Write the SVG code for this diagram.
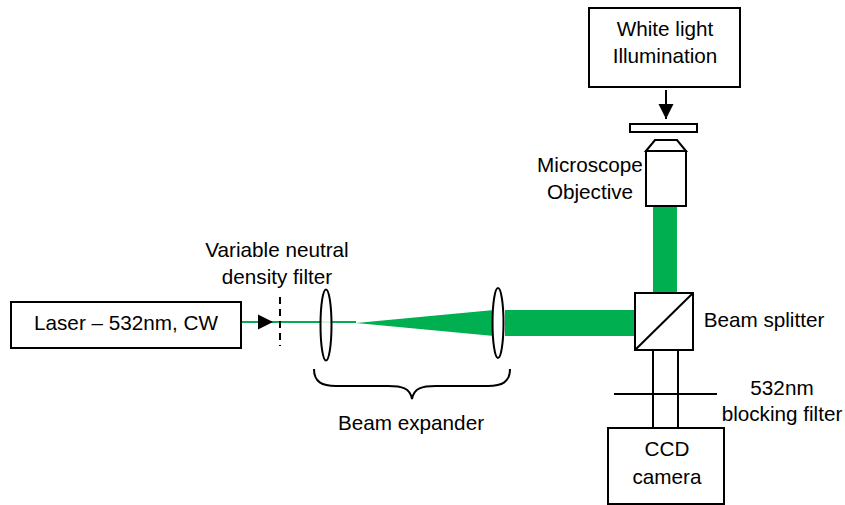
<svg xmlns="http://www.w3.org/2000/svg" width="845" height="505" viewBox="0 0 845 505">
<style>
text{font-family:"Liberation Sans",Arial,sans-serif;font-size:20.7px;fill:#000;text-anchor:middle}
.k{fill:#fff;stroke:#000;stroke-width:2}
.l{fill:#fff;fill-opacity:.85;stroke:#000;stroke-width:2}
.n{fill:none;stroke:#000;stroke-width:2}
.g{fill:#00b050;stroke:none}
</style>
<defs><marker id="a" markerUnits="userSpaceOnUse" markerWidth="16" markerHeight="16" refX="15" refY="8" orient="auto"><path d="M0,0.5 L15,8 L0,15.5 Z" fill="#000"/></marker></defs>
<g id="connectors">
<path class="g" d="M505,310 H636 V336 H505 Z"/>
<path class="g" d="M653,206 H677 V293 H653 Z"/>
<path class="g" d="M356,323 L494,310 V336 Z"/>
<path d="M241,322 H356" fill="none" stroke="#00b050" stroke-width="2"/>
<path d="M241,322 H273" fill="none" stroke="none" marker-end="url(#a)"/>
<path d="M280,297 V346" fill="none" stroke="#000" stroke-width="2" stroke-dasharray="7 5"/>
<path class="n" d="M666,90 H666 V119" marker-end="url(#a)"/>
<path class="n" d="M653,350 V428 M678,350 V428 M614,394 H717"/>
<path class="n" d="M314,369 C314,382 322,386 336,386 H388 C402,386 410,388 412,399 C414,388 422,386 436,386 H488 C502,386 510,382 510,369"/>
</g>
<g id="laser"><rect class="k" x="11" y="302" width="230" height="46"/><text x="126" y="330">Laser – 532nm, CW</text></g>
<g id="white-light"><rect class="k" x="589" y="8" width="151" height="79"/><text x="665" y="36">White light</text><text x="665" y="63">Illumination</text></g>
<g id="slide"><rect class="k" x="630" y="124" width="67" height="8"/></g>
<g id="objective"><path class="k" d="M646,151 L655,140 H677 L686,151 Z"/><rect class="k" x="646" y="151" width="40" height="55"/><text x="590" y="172">Microscope</text><text x="590" y="199">Objective</text></g>
<g id="nd-filter"><text x="277" y="257">Variable neutral</text><text x="277" y="284">density filter</text></g>
<g id="lens1"><ellipse class="l" cx="326" cy="325" rx="5.5" ry="35.5"/></g>
<g id="lens2"><ellipse class="l" cx="498" cy="323" rx="5.5" ry="35"/></g>
<g id="expander-label"><text x="411" y="430">Beam expander</text></g>
<g id="splitter"><rect class="k" x="635" y="293" width="58" height="57"/><path class="n" d="M635,350 L693,293"/><text x="764" y="327">Beam splitter</text></g>
<g id="blocking-filter"><text x="782" y="395">532nm</text><text x="782" y="421">blocking filter</text></g>
<g id="ccd"><rect class="k" x="608" y="428" width="116" height="76"/><text x="667" y="456">CCD</text><text x="667" y="484">camera</text></g>
</svg>
